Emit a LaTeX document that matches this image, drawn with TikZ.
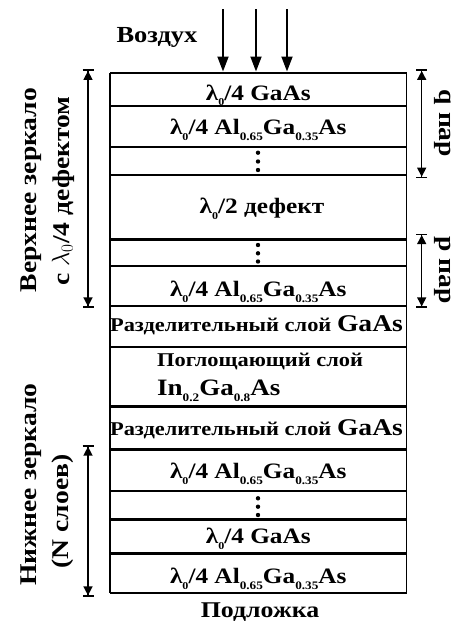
\documentclass[tikz,border=0pt]{standalone}
\usepackage{fontspec}
\setmainfont{Liberation Serif}[FakeStretch=1.15]
\newfontfamily\rotfont{Liberation Serif}[FakeStretch=1.15]
\usetikzlibrary{arrows.meta}
\newcommand\sbx[1]{\raisebox{-0.27em}{\fontsize{11.5}{11.5}\selectfont #1}}
\newcommand\sbl[1]{\raisebox{-0.27em}{\fontsize{10.5}{10.5}\selectfont #1}}
\begin{document}
\begin{tikzpicture}[x=1pt,y=-1pt,
  hline/.style={line width=2.4pt},
  vline/.style={line width=1.2pt},
  txt/.style={inner sep=0pt, anchor=base, font=\bfseries\fontsize{22}{24}\selectfont},
  smalltxt/.style={inner sep=0pt, anchor=base, font=\bfseries\fontsize{19.5}{22}\selectfont},
  rottxt/.style={inner sep=0pt, rotate=90, font=\rotfont\bfseries\fontsize{24}{26}\selectfont},
  rrtxt/.style={inner sep=0pt, rotate=-90, font=\rotfont\bfseries\fontsize{24}{26}\selectfont},
  dotn/.style={circle, fill, inner sep=0pt, minimum size=4.4pt},
  inarrow/.style={line width=1.8pt, -{Triangle[length=15pt,width=11pt]}},
  dim/.style={line width=1.4pt, {Bar[width=11pt,line width=1.6pt]Triangle[length=9pt,width=9pt]}-{Triangle[length=9pt,width=9pt]Bar[width=11pt,line width=1.6pt]}}
]
\useasboundingbox (0,0) rectangle (459,622);
% layer boundaries
\foreach \y [count=\i] in {72.7,106,146.7,174.7,239.3,266,306,346.7,406.5,449.3,490.7,519.3,553.3,592.7}{
  \coordinate (bl\i) at (110,\y);
  \coordinate (br\i) at (406.5,\y);
}
\draw[vline] (bl1) -- (bl14);
\draw[vline] (br1) -- (br14);
\foreach \i in {1,...,14}{\draw[hline] (bl\i) -- (br\i);}

% layer texts
\node[txt] (t1) at (258.3,100) {λ\sbl{0}/4 GaAs};
\node[txt] (t2) at (258.3,134.5) {λ\sbl{0}/4 Al\sbx{0.65}Ga\sbx{0.35}As};
\node[dotn] (d3a) at (258,152.7) {};
\node[dotn] (d3b) at (258,161.5) {};
\node[dotn] (d3c) at (258,170) {};
\node[txt] (t4) at (262,213.3) {λ\sbl{0}/2 дефект};
\node[dotn] (d5a) at (258,245) {};
\node[dotn] (d5b) at (258,253.3) {};
\node[dotn] (d5c) at (258,261.5) {};
\node[txt] (t6) at (258.3,296.5) {λ\sbl{0}/4 Al\sbx{0.65}Ga\sbx{0.35}As};
\node[smalltxt] (t7) at (256.5,331.7) {Разделительный слой \fontsize{24}{26}\selectfont GaAs};
\node[smalltxt, anchor=base west] (t8a) at (157,366.7) {Поглощающий слой};
\node[txt, anchor=base west, font=\bfseries\fontsize{23.5}{26}\selectfont] (t8b) at (157,395) {In\sbx{0.2}Ga\sbx{0.8}As};
\node[smalltxt] (t9) at (256.5,435) {Разделительный слой \fontsize{24}{26}\selectfont GaAs};
\node[txt] (t10) at (258.3,478.3) {λ\sbl{0}/4 Al\sbx{0.65}Ga\sbx{0.35}As};
\node[dotn] (d11a) at (258,498.3) {};
\node[dotn] (d11b) at (258,506.7) {};
\node[dotn] (d11c) at (258,515) {};
\node[txt] (t12) at (258.3,543.3) {λ\sbl{0}/4 GaAs};
\node[txt] (t13) at (258.3,583.3) {λ\sbl{0}/4 Al\sbx{0.65}Ga\sbx{0.35}As};

% air and substrate
\node[txt, font=\bfseries\fontsize{23}{24}\selectfont] (air) at (157,42) {Воздух};
\node[txt, font=\bfseries\fontsize{22.5}{24}\selectfont] (sub) at (260,617) {Подложка};

% incoming light
\foreach \x [count=\k] in {223,256,287}{
  \coordinate (ls\k) at (\x,9);
  \coordinate (le\k) at (\x,71.5);
  \draw[inarrow] (ls\k) -- (le\k);
}

% dimension arrows
\coordinate (ua1) at (88,69.3);
\coordinate (ua2) at (88,308);
\draw[dim] (ua1) -- (ua2);
\coordinate (la1) at (88,445);
\coordinate (la2) at (88,597);
\draw[dim] (la1) -- (la2);
\coordinate (qa1) at (421.7,69.3);
\coordinate (qa2) at (421.7,178.3);
\draw[dim] (qa1) -- (qa2);
\coordinate (pa1) at (421.7,233.5);
\coordinate (pa2) at (421.7,308);
\draw[dim] (pa1) -- (pa2);

% side labels
\node[rottxt] (lab1) at (31.5,190) {Верхнее зеркало};
\node[rottxt] (lab2) at (63,191) {с $\lambda_0$/4 дефектом};
\node[rottxt] (lab3) at (31.5,484.5) {Нижнее зеркало};
\node[rottxt] (lab4) at (63,511.5) {(N слоев)};
\node[rrtxt] (lab5) at (443,123.5) {q пар};
\node[rrtxt] (lab6) at (443,270) {p пар};
\end{tikzpicture}
\end{document}
